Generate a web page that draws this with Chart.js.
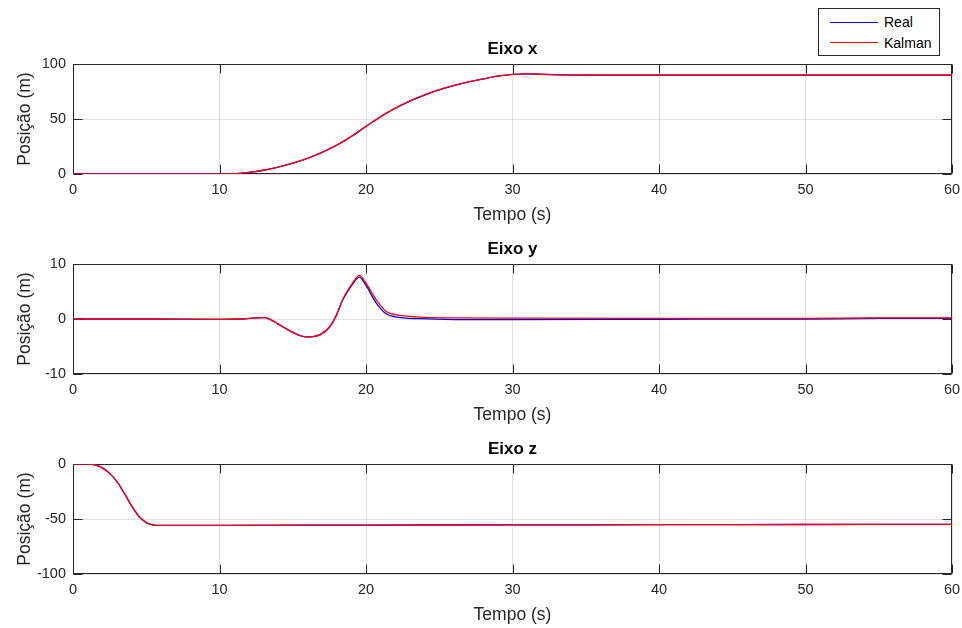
<!DOCTYPE html>
<html>
<head>
<meta charset="utf-8">
<script src="https://cdn.jsdelivr.net/npm/chart.js@4.4.0/dist/chart.umd.min.js"></script>
<style>
html,body{margin:0;padding:0;background:#fff;width:962px;height:628px;overflow:hidden;font-family:"Liberation Sans",Arial,sans-serif;}
.panel{position:absolute;left:0;width:962px;height:200px;}
#legend{position:absolute;left:818px;top:8px;width:120px;height:46px;border:1px solid #262626;background:#fff;}
.lline{position:absolute;left:11px;width:48px;height:1.3px;}
.ltext{position:absolute;left:65px;font-size:14px;line-height:16px;color:#000;}
</style>
</head>
<body>
<div class="panel" style="top:30px"><canvas id="c1" width="962" height="200"></canvas></div>
<div class="panel" style="top:230px"><canvas id="c2" width="962" height="200"></canvas></div>
<div class="panel" style="top:430px"><canvas id="c3" width="962" height="200"></canvas></div>
<div id="legend">
  <div class="lline" style="top:13px;background:#0000ff"></div>
  <div class="ltext" style="top:5px">Real</div>
  <div class="lline" style="top:33px;background:#ff0000"></div>
  <div class="ltext" style="top:26px">Kalman</div>
</div>
<script>
// ---- Data ----
const seriesNames = ['Real', 'Kalman'];
const xTicks = [0, 10, 20, 30, 40, 50, 60];
const yTicksX = [0, 50, 100];
const yTicksY = [-10, 0, 10];
const yTicksZ = [-100, -50, 0];

// Eixo x
const timeX   = [0, 5, 10, 10.5, 11, 12, 13, 14, 15, 16, 17, 18, 19, 20, 21, 22, 23, 24, 25, 26, 27, 28, 29, 30, 31, 32, 33, 35, 40, 50, 60];
const realX   = [0, 0, 0, 0, 0.2, 1.4, 3.4, 6.2, 9.8, 14.2, 19.6, 26.1, 34.1, 43.2, 52.1, 59.8, 66.3, 71.8, 76.5, 80.4, 83.7, 86.4, 88.9, 90.5, 91.0, 90.6, 90.2, 89.9, 89.9, 89.9, 89.9];
const kalmanX = [0, 0, 0, 0, 0.2, 1.4, 3.4, 6.2, 9.8, 14.3, 19.7, 26.2, 34.2, 43.3, 52.2, 59.9, 66.4, 71.9, 76.6, 80.5, 83.8, 86.5, 89.0, 90.6, 91.1, 90.7, 90.3, 90.0, 90.0, 90.0, 90.0];

// Eixo y
const timeY   = [0, 5, 10, 11.5, 12.5, 13.1, 13.6, 14.6, 15.3, 15.9, 16.4, 16.9, 17.5, 18.0, 18.4, 19.1, 19.55, 20.0, 20.7, 21.4, 22.0, 23.7, 26, 30, 40, 50, 55, 60];
const realY   = [0, 0, -0.05, 0, 0.2, 0.25, -0.3, -1.85, -2.8, -3.25, -3.2, -2.8, -1.5, 0.8, 3.4, 6.4, 7.6, 6.1, 2.9, 0.9, 0.4, 0.05, -0.1, -0.1, -0.05, 0, 0.1, 0.1];
const kalmanY = [0, 0, -0.05, 0, 0.2, 0.25, -0.3, -1.85, -2.8, -3.25, -3.2, -2.8, -1.5, 0.8, 3.5, 6.6, 7.95, 6.5, 3.5, 1.3, 0.8, 0.35, 0.2, 0.15, 0.1, 0.1, 0.2, 0.2];

// Eixo z
const timeZ   = [0, 1, 1.5, 2, 2.5, 3, 3.5, 4, 4.5, 5, 5.5, 6, 10, 20, 30, 40, 50, 60];
const realZ   = [0, 0, -0.8, -3.5, -8.5, -16, -26.5, -38, -47.5, -53.3, -55.5, -55.8, -55.8, -55.5, -55.4, -55.2, -55.0, -54.8];
const kalmanZ = [0, 0, -0.8, -3.5, -8.5, -16, -26.5, -38, -47.5, -53.3, -55.5, -55.8, -55.8, -55.5, -55.4, -55.2, -55.0, -54.8];

// ---- Styling ----
const FONT = '"Liberation Sans", Arial, sans-serif';
const AXC = '#262626';
const GRIDC = 'rgba(38,38,38,0.15)';

const boxTicks = {
  id: 'boxTicks',
  beforeDatasetsDraw(chart) {
    const {ctx, chartArea: a, scales} = chart;
    ctx.save();
    ctx.strokeStyle = AXC;
    ctx.lineWidth = 1;
    const L = Math.round(a.left) + 0.5, R = Math.round(a.right) - 0.5;
    const T = Math.round(a.top) + 0.5, B = Math.round(a.bottom) - 0.5;
    ctx.beginPath();
    const tl = 9;
    scales.x.ticks.forEach(t => {
      const px = Math.round(scales.x.getPixelForValue(t.value)) + 0.5;
      ctx.moveTo(px, B); ctx.lineTo(px, B - tl);
      ctx.moveTo(px, T); ctx.lineTo(px, T + tl);
    });
    scales.y.ticks.forEach(t => {
      const py = Math.round(scales.y.getPixelForValue(t.value)) + 0.5;
      ctx.moveTo(L, py); ctx.lineTo(L + tl, py);
      ctx.moveTo(R, py); ctx.lineTo(R - tl, py);
    });
    ctx.stroke();
    ctx.strokeRect(L, T, R - L, B - T);
    ctx.restore();
  }
};

function pts(t, v) { return t.map((x, i) => ({x: x, y: v[i]})); }

function makePanel(id, title, times, real, kalman, yTicks) {
  const yMin = yTicks[0], yMax = yTicks[yTicks.length - 1];
  return new Chart(document.getElementById(id), {
    type: 'line',
    data: {
      datasets: [
        {label: seriesNames[0], data: pts(times, real), borderColor: '#0000ff', borderWidth: 1.3, pointRadius: 0, cubicInterpolationMode: 'monotone', order: 1},
        {label: seriesNames[1], data: pts(times, kalman), borderColor: '#ff0000', borderWidth: 1.3, pointRadius: 0, cubicInterpolationMode: 'monotone', order: 0}
      ]
    },
    options: {
      responsive: false,
      animation: false,
      devicePixelRatio: 1,
      layout: {padding: {top: 0, right: 10, left: 0, bottom: 0}},
      plugins: {
        legend: {display: false},
        tooltip: {enabled: false},
        title: {
          display: true, text: title, fullSize: false, color: '#000',
          font: {family: FONT, size: 17, weight: 'bold', lineHeight: 1},
          padding: {top: 10.5, bottom: 6.5}
        }
      },
      scales: {
        x: {
          type: 'linear', min: 0, max: 60,
          afterBuildTicks: s => { s.ticks = xTicks.map(v => ({value: v})); },
          afterFit: s => { s.height = 56; s.paddingLeft = 0; s.paddingRight = 0; },
          grid: {color: GRIDC, drawTicks: false, lineWidth: 1},
          border: {display: false},
          ticks: {padding: 7, color: AXC, maxRotation: 0, autoSkip: false, font: {family: FONT, size: 14.5}},
          title: {display: true, text: 'Tempo (s)', color: AXC, font: {family: FONT, size: 17.5, lineHeight: 1}, padding: {top: 0, bottom: 6.25}}
        },
        y: {
          type: 'linear', min: yMin, max: yMax,
          afterBuildTicks: s => { s.ticks = yTicks.map(v => ({value: v})); },
          afterFit: s => { s.width = 73; s.paddingTop = 0; s.paddingBottom = 0; },
          grid: {color: GRIDC, drawTicks: false, lineWidth: 1},
          border: {display: false},
          ticks: {padding: 7, color: AXC, font: {family: FONT, size: 14.5}},
          title: {display: true, text: 'Posição (m)', color: AXC, font: {family: FONT, size: 17.5, lineHeight: 1}, padding: {top: 16.25, bottom: 0}}
        }
      }
    },
    plugins: [boxTicks]
  });
}

makePanel('c1', 'Eixo x', timeX, realX, kalmanX, yTicksX);
makePanel('c2', 'Eixo y', timeY, realY, kalmanY, yTicksY);
makePanel('c3', 'Eixo z', timeZ, realZ, kalmanZ, yTicksZ);
</script>
</body>
</html>
